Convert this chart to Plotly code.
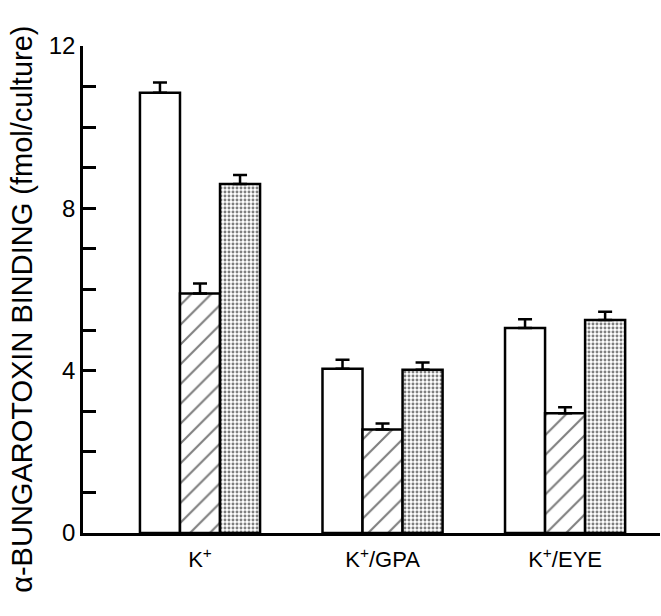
import plotly.graph_objects as go

categories = ["K<sup>+</sup>", "K<sup>+</sup>/GPA", "K<sup>+</sup>/EYE"]
open_vals = [10.85, 4.05, 5.05]
open_err = [0.25, 0.22, 0.22]
hatched_vals = [5.9, 2.55, 2.95]
hatched_err = [0.25, 0.15, 0.15]
stippled_vals = [8.6, 4.02, 5.25]
stippled_err = [0.22, 0.18, 0.2]
y_tickvals = list(range(0, 13))
y_ticktext = ["0" if v == 0 else (str(v) if v % 4 == 0 else "") for v in y_tickvals]

x_idx = [0, 1, 2]

def make_bar(vals, errs, pattern):
    return go.Bar(
        x=x_idx, y=vals,
        marker=dict(color="white", line=dict(color="black", width=2.5), pattern=pattern),
        error_y=dict(type="data", symmetric=False, array=errs, arrayminus=[0]*len(errs),
                     color="black", thickness=2.5, width=7),
        showlegend=False,
    )

fig = go.Figure()
fig.add_trace(make_bar(open_vals, open_err, dict(shape="")))
fig.add_trace(make_bar(hatched_vals, hatched_err,
                       dict(shape="/", fgcolor="black", bgcolor="white", size=14, solidity=0.15)))
fig.add_trace(make_bar(stippled_vals, stippled_err,
                       dict(shape=".", fgcolor="black", bgcolor="white", size=4, solidity=0.42)))

fig.update_layout(
    width=661, height=616,
    margin=dict(l=83, r=1, t=46, b=83),
    paper_bgcolor="white", plot_bgcolor="white",
    barmode="group", bargap=0.342, bargroupgap=0,
    font=dict(family="Liberation Sans, Arial, sans-serif", color="black", size=20),
    xaxis=dict(
        range=[-0.641, 2.52], tickvals=x_idx, ticktext=categories,
        showline=True, linecolor="black", linewidth=2.5,
        ticks="", showgrid=False, zeroline=False,
        tickfont=dict(size=22), ticklabelstandoff=5,
    ),
    yaxis=dict(
        range=[0, 12], tickvals=y_tickvals, ticktext=y_ticktext,
        showline=True, linecolor="black", linewidth=2.5,
        ticks="inside", ticklen=13, tickwidth=2.5, tickcolor="black",
        showgrid=False, zeroline=False,
        tickfont=dict(size=24),
    ),
    annotations=[dict(
        text="α-BUNGAROTOXIN BINDING (fmol/culture)",
        xref="paper", yref="paper", x=-0.106, y=0.46,
        xanchor="center", yanchor="middle", textangle=-90,
        showarrow=False, font=dict(size=29, color="black"),
    )],
)

fig.write_html("out.html")
